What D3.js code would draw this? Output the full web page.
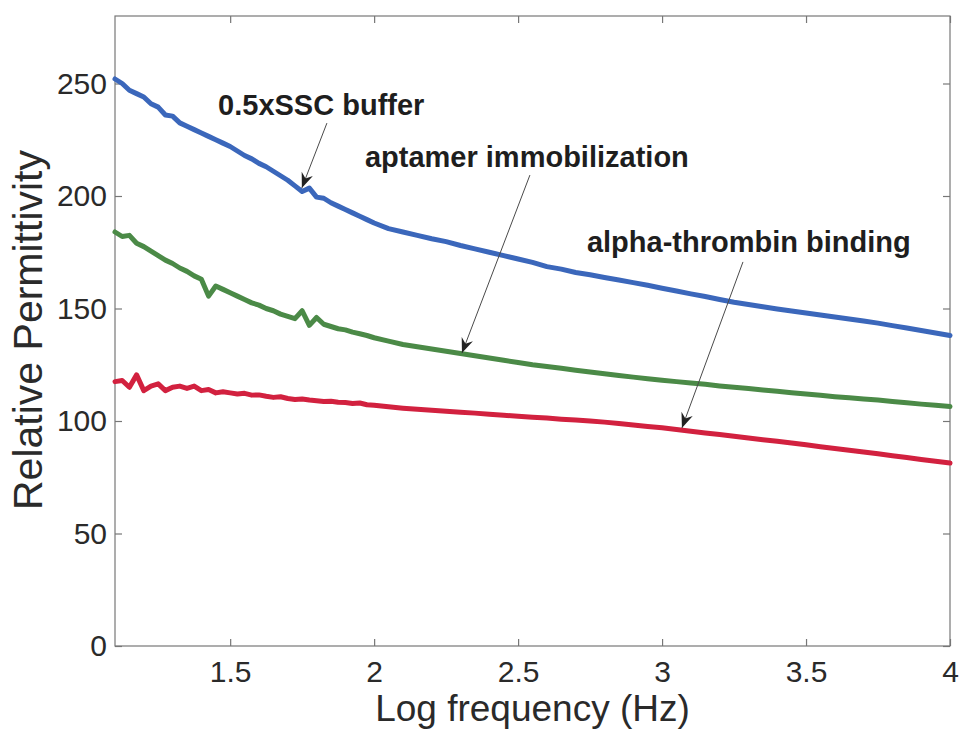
<!DOCTYPE html>
<meta charset="utf-8">
<style>
    body {
        margin: 0;
        padding: 0;
        background: #fff;
        font-family: "Liberation Sans", Arial, sans-serif;
    }

    svg {
        display: block;
    }

    .axis path,
    .axis line {
        stroke: #777;
        stroke-width: 1.2px;
    }

    .axis text {
        fill: #2a2a2a;
        font-size: 30px;
        font-family: "Liberation Sans", Arial, sans-serif;
    }

    .series {
        fill: none;
        stroke-width: 5px;
        stroke-linejoin: round;
        stroke-linecap: round;
    }

    .note {
        font-weight: bold;
        font-size: 29px;
        fill: #1e1e1e;
    }

    .pointer {
        stroke: #4a4a4a;
        stroke-width: 1px;
    }
</style>
<svg width="962" height="730"></svg>
<script src="https://cdn.jsdelivr.net/npm/d3@7/dist/d3.min.js"></script>
<script>
    // log frequency grid (Hz, log10)
    var logFreq = [
        1.100, 1.125, 1.150, 1.175, 1.200, 1.225, 1.250, 1.275, 1.300, 1.325,
        1.350, 1.375, 1.400, 1.425, 1.450, 1.475, 1.500, 1.525, 1.550, 1.575,
        1.600, 1.625, 1.650, 1.675, 1.700, 1.725, 1.750, 1.775, 1.800, 1.825,
        1.850, 1.875, 1.900, 1.925, 1.950, 1.975, 2.000,
        2.05, 2.10, 2.15, 2.20, 2.25, 2.30, 2.35, 2.40, 2.45, 2.50,
        2.55, 2.60, 2.65, 2.70, 2.75, 2.80, 2.85, 2.90, 2.95, 3.00,
        3.05, 3.10, 3.15, 3.20, 3.25, 3.30, 3.35, 3.40, 3.45, 3.50,
        3.55, 3.60, 3.65, 3.70, 3.75, 3.80, 3.85, 3.90, 3.95, 4.00
    ];

    var bufferVals = [
        252, 250, 247, 245.5, 244, 241, 239.5, 236, 235.5, 232.5,
        231, 229.5, 228, 226.5, 225, 223.5, 222, 220, 218, 216.5,
        214.5, 213, 211, 209, 207, 204.5, 202, 203.5, 199.5, 199,
        197, 195.5, 194, 192.5, 191, 189.5, 188,
        185.5, 184, 182.5, 181, 179.7, 178, 176.5, 175, 173.5, 172,
        170.5, 168.6, 167.5, 166, 165, 163.8, 162.7, 161.5, 160.3, 159,
        157.8, 156.5, 155.3, 154, 152.8, 151.8, 150.8, 149.8, 148.9, 148,
        147.1, 146.2, 145.3, 144.4, 143.5, 142.4, 141.3, 140.2, 139.1, 138
    ];

    var aptamerVals = [
        184, 182, 182.5, 179, 177.5, 175.5, 173.5, 171.5, 170, 168,
        166.5, 164.5, 163, 155.5, 160, 158.5, 157, 155.5, 154, 152.5,
        151.5, 150, 149, 147.5, 146.5, 145.5, 149, 142.5, 146, 143,
        142, 141, 140.5, 139.5, 138.8, 138, 137,
        135.5, 134, 133, 132, 131, 130, 129, 128, 127, 126,
        125, 124.2, 123.4, 122.6, 121.8, 121, 120.2, 119.5, 118.8, 118.1,
        117.5, 116.9, 116.3, 115.6, 115, 114.4, 113.8, 113.2, 112.6, 112,
        111.4, 110.8, 110.3, 109.8, 109.3, 108.7, 108.1, 107.5, 107, 106.4
    ];

    var thrombinVals = [
        117.5, 118, 115, 120.5, 113.5, 115.5, 116.5, 113.5, 115, 115.5,
        114.5, 115.5, 113.5, 114, 112.5, 113, 112.5, 112, 112.3, 111.5,
        111.6, 111, 110.5, 110.8, 110, 109.6, 109.8, 109.3, 109, 108.7,
        108.8, 108.3, 108.2, 107.8, 108, 107.2, 107,
        106.3, 105.7, 105.2, 104.8, 104.3, 103.9, 103.5, 103, 102.6, 102.1,
        101.7, 101.3, 100.8, 100.4, 100, 99.5, 98.9, 98.2, 97.6, 97,
        96.2, 95.4, 94.7, 94, 93.2, 92.4, 91.7, 91, 90.2, 89.4,
        88.6, 87.8, 87, 86.2, 85.4, 84.6, 83.8, 82.9, 82.1, 81.3
    ];

    var seriesNames = ["0.5xSSC buffer", "aptamer immobilization", "alpha-thrombin binding"];
    var seriesColors = ["#3b67bb", "#4b8a47", "#d2213f"];

    var xTicks = [1.5, 2, 2.5, 3, 3.5, 4];
    var yTicks = [0, 50, 100, 150, 200, 250];

    // annotation text start + arrow tail/tip, in data units
    var noteText = [[1.458, 236], [1.968, 213], [2.739, 175]];
    var noteTail = [[1.836, 232.4], [2.541, 209.3], [3.281, 170.7]];
    var noteTip = [[1.749, 203.6], [2.305, 130.2], [3.069, 96.9]];

    var svg = d3.select("svg");
    var margin = {top: 16, right: 12, bottom: 84, left: 115};
    var width = 962 - margin.left - margin.right;
    var height = 730 - margin.top - margin.bottom;

    var x = d3.scaleLinear().domain([1.1, 4]).range([0, width]);
    var y = d3.scaleLinear().domain([0, 280]).range([height, 0]);

    var g = svg.append("g")
        .attr("transform", "translate(" + margin.left + "," + margin.top + ")");

    // box with inward ticks on all four sides
    g.append("g").attr("class", "axis")
        .attr("transform", "translate(0," + height + ")")
        .call(d3.axisBottom(x).tickValues(xTicks).tickSizeInner(-7).tickSizeOuter(0).tickPadding(15)
            .tickFormat(d3.format("")));
    g.append("g").attr("class", "axis")
        .call(d3.axisTop(x).tickValues(xTicks).tickSizeInner(-7).tickSizeOuter(0).tickFormat(""));
    g.append("g").attr("class", "axis")
        .call(d3.axisLeft(y).tickValues(yTicks).tickSizeInner(-7).tickSizeOuter(0).tickPadding(8));
    g.append("g").attr("class", "axis")
        .attr("transform", "translate(" + width + ",0)")
        .call(d3.axisRight(y).tickValues(yTicks).tickSizeInner(-7).tickSizeOuter(0).tickFormat(""));

    g.selectAll(".axis .domain").remove();
    g.append("rect")
        .attr("width", width).attr("height", height)
        .attr("fill", "none").attr("stroke", "#777").attr("stroke-width", 1.2);

    // curves
    var allVals = [bufferVals, aptamerVals, thrombinVals];
    var line = d3.line()
        .x(function(d, i) { return x(logFreq[i]); })
        .y(function(d) { return y(d); });

    g.selectAll(".series")
        .data(allVals)
        .enter().append("path")
        .attr("class", "series")
        .attr("stroke", function(d, i) { return seriesColors[i]; })
        .attr("d", line);

    // annotations
    for (var i = 0; i < seriesNames.length; i++) {
        var x1 = x(noteTail[i][0]), y1 = y(noteTail[i][1]);
        var x2 = x(noteTip[i][0]), y2 = y(noteTip[i][1]);
        g.append("line").attr("class", "pointer")
            .attr("x1", x1).attr("y1", y1).attr("x2", x2).attr("y2", y2);
        var ang = Math.atan2(y2 - y1, x2 - x1) * 180 / Math.PI;
        g.append("path")
            .attr("d", "M0,0 L-15,-6 L-10,0 L-15,6 Z")
            .attr("fill", "#222")
            .attr("transform", "translate(" + x2 + "," + y2 + ") rotate(" + ang + ")");
        g.append("text").attr("class", "note")
            .attr("x", x(noteText[i][0])).attr("y", y(noteText[i][1]))
            .text(seriesNames[i]);
    }

    // axis titles
    svg.append("text")
        .attr("x", margin.left + x(2.55)).attr("y", 721)
        .attr("text-anchor", "middle")
        .attr("font-size", 37).attr("fill", "#2a2a2a")
        .text("Log frequency (Hz)");

    svg.append("text")
        .attr("transform", "translate(42,330) rotate(-90)")
        .attr("text-anchor", "middle")
        .attr("font-size", 41).attr("fill", "#2a2a2a")
        .text("Relative Permittivity");
</script>
